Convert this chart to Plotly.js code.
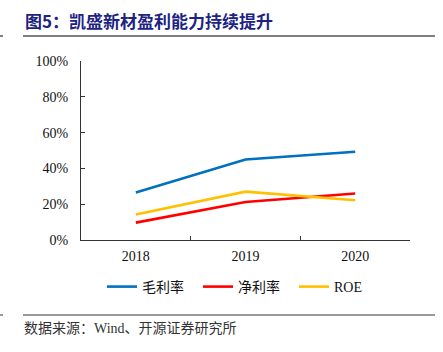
<!DOCTYPE html>
<html>
<head>
<meta charset="utf-8">
<script src="https://cdn.plot.ly/plotly-3.0.1.min.js"></script>
<style>html,body{margin:0;padding:0;background:#fff;}#chart{width:443px;height:352px;}</style>
</head>
<body>
<div id="chart"></div>
<script>
const years = ['2018', '2019', '2020'];
const grossMargin = [0.266, 0.450, 0.493];
const netMargin = [0.097, 0.212, 0.260];
const roe = [0.143, 0.270, 0.222];
const seriesNames = ['毛利率', '净利率', 'ROE'];
const seriesColors = ['#0070C0', '#FF0000', '#FFC000'];

const W = 443, H = 352;
const L = 81, R = 410, T = 61, B = 240;
const pw = R - L, ph = B - T;
const px = x => (x - L) / pw;
const py = y => (B - y) / ph;

const traces = [grossMargin, netMargin, roe].map((vals, i) => ({
  x: years, y: vals, type: 'scatter', mode: 'lines', name: seriesNames[i],
  line: {color: seriesColors[i], width: 2.6}
}));

const serif = 'Liberation Serif, Noto Sans CJK SC, serif';
const layout = {
  width: W, height: H,
  margin: {l: L, r: W - R, t: T, b: H - B, pad: 0},
  paper_bgcolor: '#fff', plot_bgcolor: '#fff',
  showlegend: true,
  title: {
    text: '<b>图5：凯盛新材盈利能力持续提升</b>',
    font: {family: 'Noto Sans CJK SC', size: 17, color: '#1c2383'},
    xref: 'container', yref: 'container', x: 25 / W, xanchor: 'left',
    y: 1 - 22 / H, yanchor: 'middle'
  },
  xaxis: {
    type: 'category', range: [-0.5, 2.5], showline: true, linecolor: '#333', linewidth: 1,
    ticks: 'inside', tickson: 'boundaries', ticklen: 4, tickcolor: '#333',
    showgrid: false, zeroline: false, fixedrange: true,
    tickfont: {family: serif, size: 14, color: '#111'}, ticklabelstandoff: 3
  },
  yaxis: {
    range: [0, 1], dtick: 0.2, tickformat: '.0%', showline: true, linecolor: '#333', linewidth: 1,
    ticks: 'inside', ticklen: 4, tickcolor: '#333', showgrid: false, zeroline: false,
    tickfont: {family: serif, size: 14, color: '#111'}, ticklabelstandoff: 9
  },
  legend: {
    orientation: 'h', x: px(102), xanchor: 'left', y: py(287), yanchor: 'middle',
    font: {family: 'Liberation Serif, Noto Sans CJK SC', size: 14, color: '#111'},
    itemwidth: 30, entrywidth: 51, entrywidthmode: 'pixels', tracegroupgap: 0, bgcolor: 'rgba(0,0,0,0)'
  },
  shapes: [
    {type: 'line', xref: 'paper', yref: 'paper', x0: px(23), x1: px(435), y0: py(36), y1: py(36), line: {color: '#555', width: 1.5}},
    {type: 'line', xref: 'paper', yref: 'paper', x0: px(0), x1: px(3), y0: py(36), y1: py(36), line: {color: '#555', width: 1.5}},
    {type: 'line', xref: 'paper', yref: 'paper', x0: px(23), x1: px(435), y0: py(315), y1: py(315), line: {color: '#333', width: 1}},
    {type: 'line', xref: 'paper', yref: 'paper', x0: px(0), x1: px(3), y0: py(315), y1: py(315), line: {color: '#333', width: 1}}
  ],
  annotations: [
    {text: '数据来源：Wind、开源证券研究所', xref: 'paper', yref: 'paper', x: px(22), y: py(328),
     xanchor: 'left', yanchor: 'middle', showarrow: false,
     font: {family: 'Liberation Serif, Noto Sans CJK SC', size: 14, color: '#333'}}
  ]
};

Plotly.newPlot('chart', traces, layout, {displayModeBar: false, staticPlot: true});
</script>
</body>
</html>
